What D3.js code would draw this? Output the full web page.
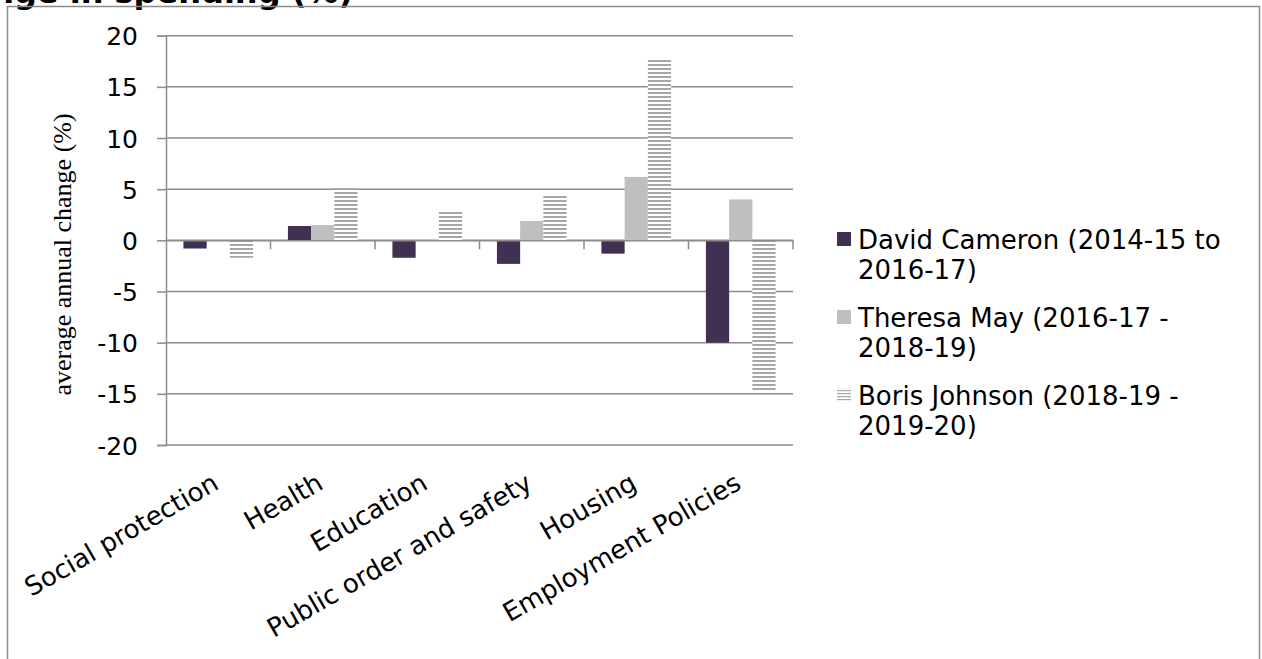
<!DOCTYPE html>
<html>
<head>
<meta charset="utf-8">
<script src="https://cdn.jsdelivr.net/npm/d3@7"></script>
<style>
  html, body { margin: 0; padding: 0; background: #fff; overflow: hidden; }
  svg { display: block; }
</style>
</head>
<body>
<svg id="chart" width="1262" height="659"></svg>
<script>
// ---- data ----
const categories = ["Social protection", "Health", "Education", "Public order and safety", "Housing", "Employment Policies"];
const seriesNames = ["David Cameron (2014-15 to|2016-17)", "Theresa May (2016-17 -|2018-19)", "Boris Johnson (2018-19 -|2019-20)"];
const cameron = [-0.8, 1.4, -1.7, -2.3, -1.3, -10.0];
const may = [0, 1.5, 0, 1.9, 6.2, 4.0];
const johnson = [-1.7, 5.2, 2.8, 4.5, 17.8, -14.8];
const yTicks = [-20, -15, -10, -5, 0, 5, 10, 15, 20];
const yLabel = "average annual change (%)";
const titleText = "Average annual change in spending (%)";

const seriesValues = [cameron, may, johnson];

const svg = d3.select("#chart");
const gridColor = "#8c8c8c";
const font = "'DejaVu Sans', Verdana, sans-serif";

// patterns
const defs = svg.append("defs");
const pat = defs.append("pattern").attr("id", "stripes")
  .attr("patternUnits", "userSpaceOnUse").attr("width", 4).attr("height", 4);
pat.append("rect").attr("width", 4).attr("height", 4).attr("fill", "#ffffff");
pat.append("rect").attr("width", 4).attr("height", 2).attr("fill", "#a6a6a6");
const patL = defs.append("pattern").attr("id", "stripesLegend")
  .attr("patternUnits", "userSpaceOnUse").attr("width", 3).attr("height", 3);
patL.append("rect").attr("width", 3).attr("height", 3).attr("fill", "#ffffff");
patL.append("rect").attr("width", 3).attr("height", 1.2).attr("fill", "#a6a6a6");

const fills = ["#403152", "#bfbfbf", "url(#stripes)"];
const legendFills = ["#403152", "#bfbfbf", "url(#stripesLegend)"];

// title (mostly cut off at top)
svg.append("text").attr("x", 353).attr("y", 3)
  .attr("text-anchor", "end")
  .attr("font-family", font).attr("font-weight", "bold").attr("font-size", 32)
  .attr("fill", "#000").text(titleText);

// outer border
svg.append("rect").attr("x", 7.5).attr("y", 6.5).attr("width", 1252).attr("height", 700)
  .attr("fill", "none").attr("stroke", gridColor).attr("stroke-width", 1.5);

// scales
const plotLeft = 166, plotRight = 793;
const y = d3.scaleLinear().domain([-20, 20]).range([445, 35.7]);
const x = d3.scaleBand().domain(categories).range([plotLeft, plotRight]).paddingInner(0).paddingOuter(0);
const groupW = x.bandwidth() * 3 / 4.5;
const xs = d3.scaleBand().domain([0, 1, 2]).range([0, groupW]).padding(0);
const groupOffset = (x.bandwidth() - groupW) / 2;

// gridlines
svg.append("g").selectAll("line").data(yTicks).join("line")
  .attr("x1", plotLeft).attr("x2", plotRight)
  .attr("y1", d => y(d)).attr("y2", d => y(d))
  .attr("stroke", gridColor).attr("stroke-width", 1.5);

// bars
seriesValues.forEach((vals, si) => {
  svg.append("g").selectAll("rect").data(vals).join("rect")
    .attr("x", (d, i) => x(categories[i]) + groupOffset + xs(si))
    .attr("width", xs.bandwidth())
    .attr("y", d => y(Math.max(0, d)))
    .attr("height", d => Math.abs(y(d) - y(0)))
    .attr("fill", fills[si]);
});

// y axis
const yAxis = d3.axisLeft(y).tickValues(yTicks).tickSize(9).tickPadding(19).tickFormat(d3.format("d"));
const yg = svg.append("g").attr("transform", `translate(${plotLeft},0)`).call(yAxis);
yg.select(".domain").attr("stroke", gridColor).attr("stroke-width", 1.5);
yg.selectAll(".tick line").attr("stroke", gridColor).attr("stroke-width", 1.5);
yg.selectAll(".tick text").attr("font-family", font).attr("font-size", 25).attr("fill", "#000")
  .attr("dy", "0.36em").text(d => d < 0 ? "-" + Math.abs(d) : d);

// category axis on zero line
const xAxis = d3.axisBottom(x).tickSize(0).tickFormat("");
const xg = svg.append("g").attr("transform", `translate(0,${y(0)})`).call(xAxis);
xg.select(".domain").attr("stroke", gridColor).attr("stroke-width", 1.5);
xg.selectAll(".tick").remove();
svg.append("g").selectAll("line").data(categories).join("line")
  .attr("x1", d => x(d) + x.bandwidth()).attr("x2", d => x(d) + x.bandwidth())
  .attr("y1", y(0)).attr("y2", y(0) + 9)
  .attr("stroke", gridColor).attr("stroke-width", 1.5);

// category labels (at bottom, rotated)
svg.append("g").selectAll("text").data(categories).join("text")
  .attr("transform", d => `translate(${x(d) + x.bandwidth() / 2 + 2},488) rotate(-30)`)
  .attr("text-anchor", "end")
  .attr("font-family", font).attr("font-size", 26).attr("fill", "#000")
  .text(d => d);

// y axis title
svg.append("text")
  .attr("transform", `translate(71,254.5) rotate(-90)`)
  .attr("text-anchor", "middle")
  .attr("font-family", "'Liberation Serif', 'Times New Roman', serif").attr("font-size", 26)
  .attr("fill", "#000").text(yLabel);

// legend
const legendBase = [249, 327, 405];
const lg = svg.append("g");
seriesNames.forEach((name, i) => {
  const lines = name.split("|");
  lg.append("rect").attr("x", 837).attr("y", legendBase[i] - 17).attr("width", 14).attr("height", 14)
    .attr("fill", legendFills[i]);
  const t = lg.append("text").attr("font-family", font).attr("font-size", 26).attr("fill", "#000");
  lines.forEach((ln, j) => {
    t.append("tspan").attr("x", 858).attr("y", legendBase[i] + j * 30).text(ln);
  });
});
</script>
</body>
</html>
